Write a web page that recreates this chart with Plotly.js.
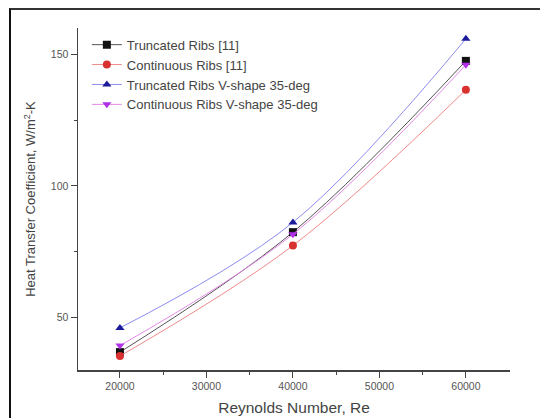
<!DOCTYPE html>
<html>
<head>
<meta charset="utf-8">
<script src="https://cdn.plot.ly/plotly-3.0.1.min.js"></script>
<style>
  html, body { margin: 0; padding: 0; background: #fff; overflow: hidden; }
  #wrap { position: relative; width: 540px; height: 418px; }
  #chart { position: absolute; left: 0; top: 0; width: 540px; height: 418px; }
  #frame { position: absolute; left: 9px; top: 8px; width: 560px; height: 440px;
           border-left: 2px solid #111; border-top: 2px solid #333; pointer-events: none; }
</style>
</head>
<body>
<div id="wrap">
  <div id="chart"></div>
  <div id="frame"></div>
</div>
<script>
const reynolds = [20000, 40000, 60000];
const truncatedRibs = [36.8, 82.4, 147.5];
const continuousRibs = [35.3, 77.3, 136.5];
const truncatedV35 = [46.0, 86.1, 155.9];
const continuousV35 = [39.3, 81.6, 146.0];

const seriesNames = [
  'Truncated Ribs [11]',
  'Continuous Ribs [11]',
  'Truncated Ribs V-shape 35-deg',
  'Continuous Ribs V-shape 35-deg'
];
const seriesValues = [truncatedRibs, continuousRibs, truncatedV35, continuousV35];
const markerColors = ['#111111', '#d93030', '#1a1a9a', '#b030e8'];
const lineColors = ['#555555', '#f08a8a', '#8c8cf0', '#e48ae8'];
const symbols = ['square', 'circle', 'triangle-up', 'triangle-down'];

const traces = seriesValues.map((vals, i) => ({
  x: reynolds,
  y: vals,
  name: seriesNames[i],
  type: 'scatter',
  mode: 'lines+markers',
  line: { shape: 'spline', smoothing: 1, color: lineColors[i], width: 1 },
  marker: { symbol: symbols[i], color: markerColors[i], size: 8 }
}));

const fontFam = 'Arial, "Liberation Sans", sans-serif';

const layout = {
  width: 540,
  height: 418,
  margin: { l: 78, r: 30, t: 28, b: 48 },
  paper_bgcolor: '#ffffff',
  plot_bgcolor: '#ffffff',
  showlegend: true,
  legend: {
    x: 0.0205, y: 0.995, xanchor: 'left', yanchor: 'top',
    bgcolor: 'rgba(0,0,0,0)',
    font: { family: fontFam, size: 13, color: '#444' },
    tracegroupgap: 0
  },
  xaxis: {
    range: [15150, 65100],
    tickvals: [20000, 30000, 40000, 50000, 60000],
    ticktext: ['20000', '30000', '40000', '50000', '60000'],
    showgrid: false,
    zeroline: false,
    showline: true,
    linecolor: '#444',
    linewidth: 1.5,
    ticks: 'outside',
    ticklen: 6,
    tickcolor: '#444',
    tickfont: { family: fontFam, size: 10.5, color: '#555' },
    minor: { tickvals: [25000, 35000, 45000, 55000], ticks: 'outside', ticklen: 3, tickcolor: '#444' },
    title: { text: 'Reynolds Number, Re', font: { family: fontFam, size: 15.5, color: '#444' }, standoff: 11 }
  },
  yaxis: {
    range: [30, 160],
    tickvals: [50, 100, 150],
    ticktext: ['50', '100', '150'],
    showgrid: false,
    zeroline: false,
    showline: true,
    linecolor: '#444',
    linewidth: 1.5,
    ticks: 'outside',
    ticklen: 6,
    tickcolor: '#444',
    tickfont: { family: fontFam, size: 10.5, color: '#555' },
    minor: { tickvals: [75, 125], ticks: 'outside', ticklen: 3, tickcolor: '#444' },
    title: { text: 'Heat Transfer Coefficient, W/m<sup>2</sup>-K', font: { family: fontFam, size: 13, color: '#444' }, standoff: 12 }
  }
};

Plotly.newPlot('chart', traces, layout, { displayModeBar: false, staticPlot: true });
</script>
</body>
</html>
